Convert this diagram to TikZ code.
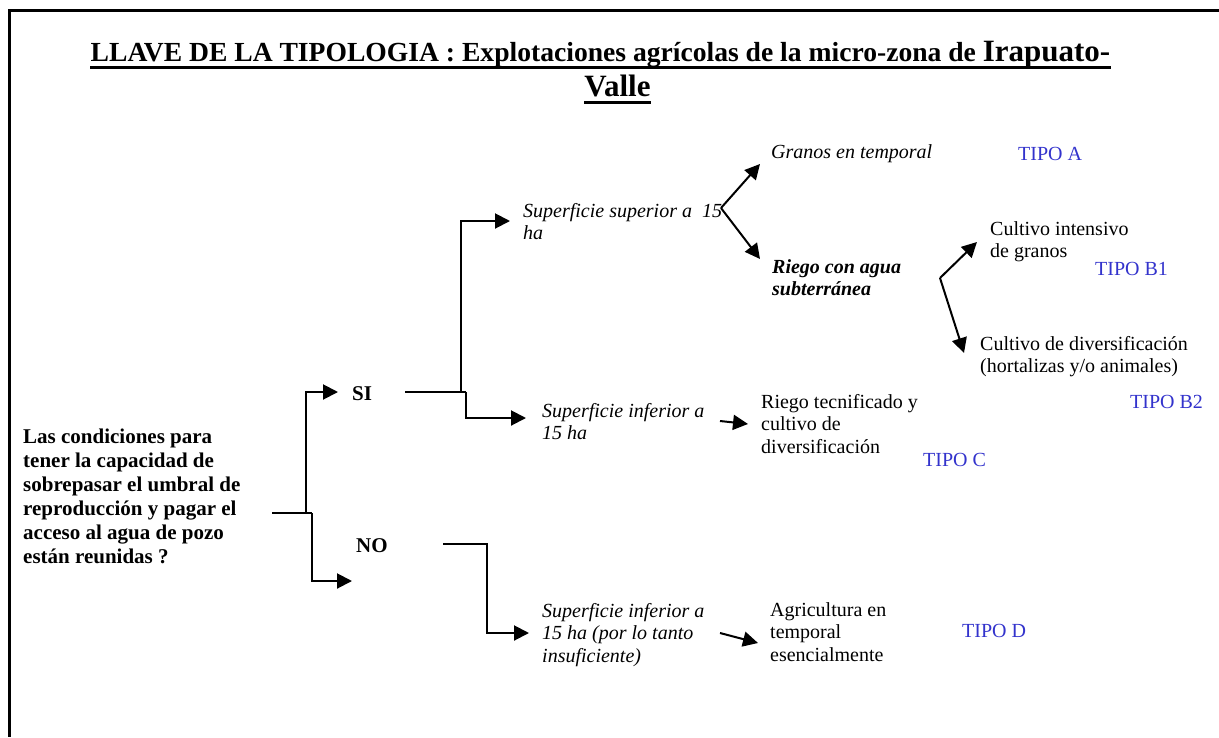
\documentclass[tikz,border=0pt]{standalone}
\usepackage{fontspec}
\setmainfont{Liberation Serif}
\usetikzlibrary{arrows.meta}
\definecolor{tipoblue}{RGB}{51,51,204}
% left-aligned block of lines whose baseline is that of its first line
\newcommand\stacklines[1]{\vtop{\halign{##\hfil\cr#1\crcr}}}

\begin{document}
\begin{tikzpicture}[x=1pt,y=-1pt,
  lbl/.style={anchor=base west,inner sep=0pt,font=\fontsize{20}{22.5}\selectfont},
  lblit/.style={lbl,font=\fontsize{20}{22.5}\selectfont\itshape},
  lblbi/.style={lbl,font=\fontsize{20}{22.5}\selectfont\bfseries\itshape},
  lblbf/.style={lbl,font=\fontsize{21}{24}\selectfont\bfseries},
  tipo/.style={lbl,text=tipoblue},
  titletxt/.style={anchor=base,inner sep=0pt,font=\fontsize{27.6}{31}\selectfont\bfseries},
  uline/.style={line width=3pt},
  ln/.style={line width=2pt},
  arr/.style={ln,-{Triangle[length=15pt,width=15pt]}}
]
\useasboundingbox (0,0) rectangle (1219,737);

% frame (top and left edges)
\draw[line width=3pt] (1219,10) -- (9.5,10) -- (9.5,737);

% title
\node[titletxt] (title1) at (600.5,61)
  {LLAVE DE LA TIPOLOGIA : Explotaciones agrícolas de la micro-zona de {\fontsize{31}{34}\selectfont Irapuato-}};
\node[titletxt,font=\fontsize{31}{34}\selectfont\bfseries] (title2) at (617.5,96) {Valle};
\draw[uline] ([yshift=-6.5]title1.base west) -- ([yshift=-6.5]title1.base east);
\draw[uline] ([yshift=-6.5]title2.base west) -- ([yshift=-6.5]title2.base east);

% question and answers
\node[lblbf] (q) at (23,443)
  {\stacklines{Las condiciones para\cr tener la capacidad de\cr sobrepasar el umbral de\cr
   reproducción y pagar el\cr acceso al agua de pozo\cr están reunidas ?}};
\node[lblbf] (si) at (352,400) {SI};
\node[lblbf] (no) at (356,552) {NO};

% SI branch
\node[lblit] (sup) at (523,217) {\stacklines{Superficie superior a\ \ 15\cr ha}};
\node[lblit] (gran) at (771,158) {Granos en temporal};
\node[tipo] (tA) at (1018,160) {TIPO A};
\node[lblbi] (riego) at (772,273) {\stacklines{Riego con agua\cr subterránea}};
\node[lbl] (int) at (990,235) {\stacklines{Cultivo intensivo\cr de granos}};
\node[tipo] (tB1) at (1095,275) {TIPO B1};
\node[lbl] (div) at (980,350) {\stacklines{Cultivo de diversificación\cr (hortalizas y/o animales)}};
\node[tipo] (tB2) at (1130,408) {TIPO B2};
\node[lblit] (inf) at (542,417) {\stacklines{Superficie inferior a\cr 15 ha}};
\node[lbl] (tec) at (761,408) {\stacklines{Riego tecnificado y\cr cultivo de\cr diversificación}};
\node[tipo] (tC) at (923,466) {TIPO C};

% NO branch
\node[lblit] (ins) at (542,617) {\stacklines{Superficie inferior a\cr 15 ha (por lo tanto\cr insuficiente)}};
\node[lbl] (agr) at (770,616) {\stacklines{Agricultura en\cr temporal\cr esencialmente}};
\node[tipo] (tD) at (962,637) {TIPO D};

% junctions and arrow ends
\coordinate (qOut) at (272,513);
\coordinate (qUp) at (305.5,513);
\coordinate (qDown) at (312,513);
\coordinate (siIn) at (338,392);
\coordinate (noIn) at (352,581);
\coordinate (siOut) at (405,392);
\coordinate (siUp) at (461,392);
\coordinate (siDown) at (466,392);
\coordinate (supIn) at (510,221);
\coordinate (infIn) at (526,418);
\coordinate (noOut) at (443,544);
\coordinate (noTurn) at (487,544);
\coordinate (insIn) at (529,633);
\coordinate (supFork) at (721,208);
\coordinate (granIn) at (760,164);
\coordinate (riegoIn) at (760,259);
\coordinate (riegoFork) at (940,278);
\coordinate (intIn) at (977,242);
\coordinate (divIn) at (964,353);
\coordinate (infOut) at (720,421);
\coordinate (tecIn) at (748,424);
\coordinate (insOut) at (720,633);
\coordinate (agrIn) at (758,643);

% connectors
\draw[ln] (qOut) -- (qDown);
\draw[arr] (qUp) |- (siIn);
\draw[arr] (qDown) |- (noIn);
\draw[ln] (siOut) -- (siDown);
\draw[arr] (siUp) |- (supIn);
\draw[arr] (siDown) |- (infIn);
\draw[arr] (noOut) -- (noTurn) |- (insIn);
\draw[arr] (supFork) -- (granIn);
\draw[arr] (supFork) -- (riegoIn);
\draw[arr] (riegoFork) -- (intIn);
\draw[arr] (riegoFork) -- (divIn);
\draw[arr] (infOut) -- (tecIn);
\draw[arr] (insOut) -- (agrIn);
\end{tikzpicture}
\end{document}
